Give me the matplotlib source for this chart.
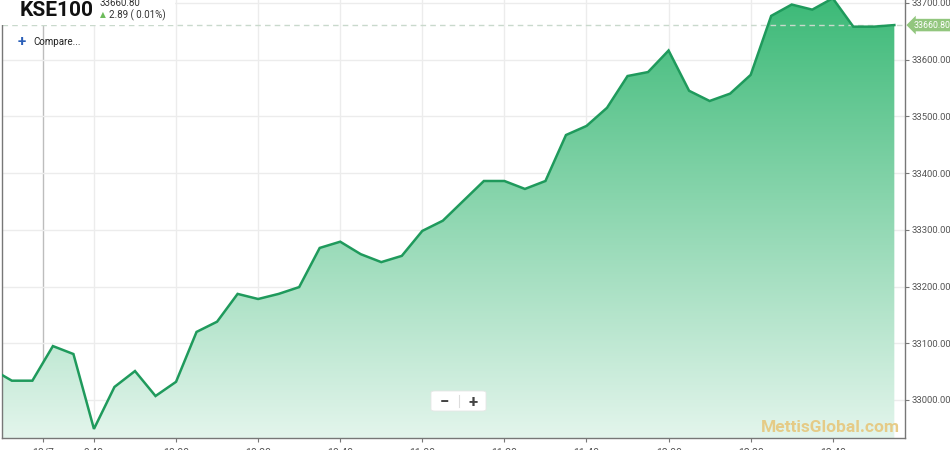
import matplotlib.pyplot as plt
import numpy as np
from matplotlib.patches import Rectangle, FancyBboxPatch
from matplotlib.colors import LinearSegmentedColormap

# times in minutes after midnight, 5 minute bars
times = [555, 560, 565, 570, 575, 580, 585, 590, 595, 600, 605, 610, 615, 620, 625,
         630, 635, 640, 645, 650, 655, 660, 665, 670, 675, 680, 685, 690, 695, 700,
         705, 710, 715, 720, 725, 730, 735, 740, 745, 750, 755, 760, 765, 770, 775]
values = [33055, 33034, 33034, 33095, 33081, 32949, 33023, 33051, 33007, 33032,
          33120, 33138, 33187, 33178, 33187, 33199, 33268, 33279, 33257, 33243,
          33254, 33298, 33316, 33351, 33386, 33386, 33372, 33386, 33467, 33483,
          33515, 33571, 33578, 33616, 33545, 33527, 33540, 33573, 33677, 33697,
          33688, 33708, 33658, 33658, 33660.80]
last_value = 33660.80
change = "2.89 ( 0.01%)"
xtick_pos = [567.5, 580, 600, 620, 640, 660, 680, 700, 720, 740, 760]
xtick_lab = ['10/7', '9:40', '10:00', '10:20', '10:40', '11:00', '11:20', '11:40',
             '12:00', '12:20', '12:40']
ytick_pos = [33000, 33100, 33200, 33300, 33400, 33500, 33600, 33700]

plt.rcParams['font.family'] = ['Roboto', 'DejaVu Sans']

fig = plt.figure(figsize=(9.5, 4.5), dpi=100)
ax = fig.add_axes([2 / 950, 12 / 450, 903 / 950, 438 / 450])
x0, x1 = 557.6, 777.6
y0, y1 = 32933, 33705
ax.set_xlim(x0, x1)
ax.set_ylim(y0, y1)

# gradient fill under the line
grad = np.linspace(0, 1, 256).reshape(-1, 1)
cmap = LinearSegmentedColormap.from_list('g', ['#e3f5ec', '#3dba78'])
im = ax.imshow(grad, cmap=cmap, aspect='auto', extent=[x0, x1, y0, y1],
               origin='lower', zorder=1)
poly = ax.fill_between(times, values, y0, color='none')
path = poly.get_paths()[0]
im.set_clip_path(path, transform=ax.transData)

ax.plot(times, values, color='#1f9a5c', lw=1.8, zorder=3, solid_joinstyle='miter')

# grid
for t in xtick_pos:
    ax.axvline(t, color='#bdbdbd' if t == xtick_pos[0] else '#ececec', lw=1, zorder=0.5)
for v in ytick_pos:
    ax.axhline(v, color='#ececec', lw=1, zorder=0.5)
ax.axhline(last_value, color='#c9d9cc', lw=1, ls=(0, (4, 3)), zorder=2)

ax.set_xticks(xtick_pos)
ax.set_xticklabels(xtick_lab)
ax.set_yticks(ytick_pos)
ax.set_yticklabels(['%.2f' % v for v in ytick_pos])
ax.yaxis.tick_right()
ax.tick_params(axis='y', length=3, width=0.8, color='#777777', labelsize=6.8,
               labelcolor='#555555', pad=1.5)
ax.tick_params(axis='x', length=3, width=0.8, color='#777777', labelsize=7.5,
               labelcolor='#555555', pad=4)
ax.spines['top'].set_visible(False)
for s in ['left', 'right', 'bottom']:
    ax.spines[s].set_color('#777777')
    ax.spines[s].set_linewidth(1)

# current value tag
ax.text(1.009, last_value, '%.2f' % last_value, transform=ax.get_yaxis_transform(),
        ha='left', va='center', fontsize=6.3, color='white', zorder=6, clip_on=False,
        bbox=dict(boxstyle='larrow,pad=0.2', fc='#92c67e', ec='none'))

# header box
fig.patches.append(Rectangle((0, 1 - 25 / 450), 175 / 950, 25 / 450,
                             transform=fig.transFigure, fc='white', ec='none', zorder=5))
fig.text(20 / 950, 1 - 10 / 450, 'KSE100', fontsize=15, fontweight='bold',
         color='#111111', va='center', ha='left', zorder=6)
fig.text(100 / 950, 1 - 3 / 450, '%.2f' % last_value, fontsize=7, color='#333333',
         va='center', ha='left', zorder=6)
fig.text(100 / 950, 1 - 15 / 450, '\u25b2', fontsize=5.5, color='#6dbb5b',
         va='center', ha='left', zorder=6)
fig.text(109 / 950, 1 - 15 / 450, change, fontsize=7, color='#333333',
         va='center', ha='left', zorder=6)
fig.text(18 / 950, 1 - 42 / 450, '+', fontsize=11, color='#2a5fb8', fontweight='bold',
         va='center', ha='left', zorder=6)
fig.text(33 / 950, 1 - 42 / 450, 'Compare...', fontsize=7, color='#222222',
         va='center', ha='left', zorder=6)

# zoom buttons
fig.patches.append(FancyBboxPatch((431 / 950, 1 - 411 / 450), 55 / 950, 20 / 450,
                                  boxstyle='round,pad=0,rounding_size=0.004',
                                  transform=fig.transFigure, fc='white', ec='#e6e6e6',
                                  lw=0.6, zorder=5))
fig.text(444 / 950, 1 - 402 / 450, '\u2212', fontsize=12, color='#444444',
         ha='center', va='center', fontweight='bold', zorder=6)
fig.text(473 / 950, 1 - 402 / 450, '+', fontsize=12, color='#444444',
         ha='center', va='center', fontweight='bold', zorder=6)
fig.lines.append(plt.Line2D([459 / 950, 459 / 950], [1 - 407 / 450, 1 - 395 / 450],
                            transform=fig.transFigure, color='#dddddd', lw=0.8, zorder=6))

# watermark
fig.text(900 / 950, 1 - 428 / 450, 'MettisGlobal.com', fontsize=12.5, fontweight='bold',
         color='#e6c77c', ha='right', va='center', alpha=0.9, zorder=6)

fig.savefig('out.png', dpi=100)
